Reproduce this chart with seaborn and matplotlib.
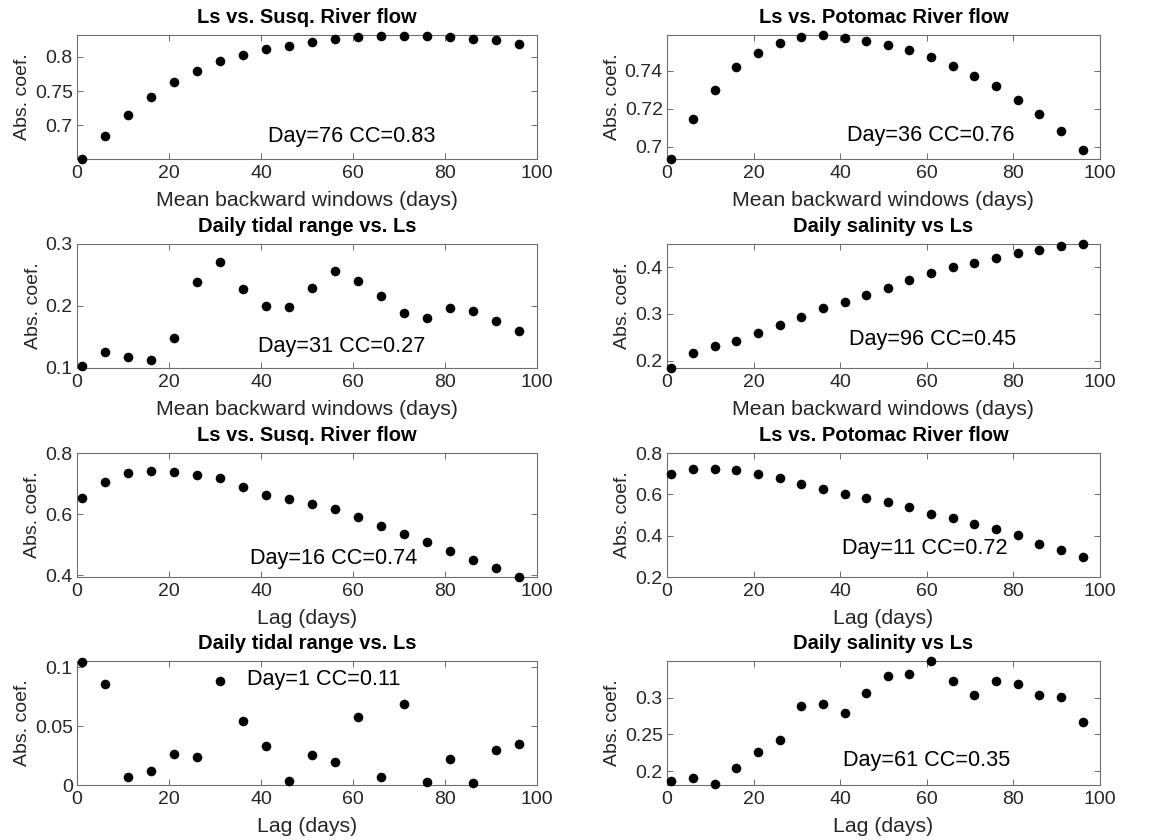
import numpy as np
import pandas as pd
import matplotlib
matplotlib.use("Agg")
import matplotlib.pyplot as plt
import seaborn as sns

sns.set_theme(style="white")
plt.rcParams['font.family'] = ['Liberation Sans', 'DejaVu Sans']

days = [1, 6, 11, 16, 21, 26, 31, 36, 41, 46, 51, 56, 61, 66, 71, 76, 81, 86, 91, 96]

win_susq = [0.651, 0.684, 0.715, 0.742, 0.763, 0.780, 0.794, 0.803, 0.811, 0.816,
            0.822, 0.826, 0.829, 0.830, 0.830, 0.830, 0.829, 0.826, 0.824, 0.819]
win_potomac = [0.6937, 0.7144, 0.7299, 0.7419, 0.7494, 0.7548, 0.7582, 0.7589, 0.7575, 0.7557,
               0.7536, 0.7510, 0.7473, 0.7424, 0.7374, 0.7318, 0.7249, 0.7173, 0.7082, 0.6983]
win_tidal = [0.1038, 0.1257, 0.117, 0.1137, 0.149, 0.2383, 0.2705, 0.2279, 0.2005, 0.198,
             0.2295, 0.2557, 0.2399, 0.2158, 0.1885, 0.1814, 0.1962, 0.1923, 0.176, 0.1596]
win_salinity = [0.185, 0.217, 0.231, 0.243, 0.259, 0.276, 0.294, 0.312, 0.326, 0.340,
                0.356, 0.372, 0.388, 0.400, 0.409, 0.419, 0.429, 0.437, 0.444, 0.450]
lag_susq = [0.652, 0.705, 0.734, 0.741, 0.739, 0.728, 0.717, 0.690, 0.664, 0.650,
            0.632, 0.616, 0.592, 0.561, 0.536, 0.507, 0.478, 0.450, 0.425, 0.395]
lag_potomac = [0.697, 0.723, 0.723, 0.718, 0.700, 0.677, 0.652, 0.624, 0.602, 0.582,
               0.565, 0.539, 0.507, 0.485, 0.456, 0.432, 0.402, 0.361, 0.329, 0.295]
lag_tidal = [0.105, 0.086, 0.0067, 0.0115, 0.0267, 0.0242, 0.0888, 0.0545, 0.0334, 0.0037,
             0.0258, 0.0197, 0.0581, 0.0067, 0.0688, 0.0025, 0.0225, 0.0017, 0.0295, 0.0348]
lag_salinity = [0.186, 0.1905, 0.182, 0.2036, 0.2253, 0.2428, 0.2882, 0.2914, 0.2792, 0.3063,
                0.3299, 0.3326, 0.3502, 0.3226, 0.3032, 0.3222, 0.3186, 0.3032, 0.3005, 0.2670]

titles = ["Ls vs. Susq. River flow", "Ls vs. Potomac River flow",
          "Daily tidal range vs. Ls", "Daily salinity vs Ls",
          "Ls vs. Susq. River flow", "Ls vs. Potomac River flow",
          "Daily tidal range vs. Ls", "Daily salinity vs Ls"]
notes = ["Day=76 CC=0.83", "Day=36 CC=0.76", "Day=31 CC=0.27", "Day=96 CC=0.45",
         "Day=16 CC=0.74", "Day=11 CC=0.72", "Day=1 CC=0.11", "Day=61 CC=0.35"]
xlabels = ["Mean backward windows (days)"] * 4 + ["Lag (days)"] * 4
series = [win_susq, win_potomac, win_tidal, win_salinity,
          lag_susq, lag_potomac, lag_tidal, lag_salinity]
ylims = [(0.651, 0.832), (0.6935, 0.759), (0.1, 0.3), (0.185, 0.449),
         (0.394, 0.8), (0.2, 0.8), (0.0, 0.1055), (0.181, 0.3498)]
yticks = [[0.7, 0.75, 0.8], [0.7, 0.72, 0.74], [0.1, 0.2, 0.3], [0.2, 0.3, 0.4],
          [0.4, 0.6, 0.8], [0.2, 0.4, 0.6, 0.8], [0, 0.05, 0.1], [0.2, 0.25, 0.3]]
yticklabels = [["0.7", "0.75", "0.8"], ["0.7", "0.72", "0.74"], ["0.1", "0.2", "0.3"],
               ["0.2", "0.3", "0.4"], ["0.4", "0.6", "0.8"], ["0.2", "0.4", "0.6", "0.8"],
               ["0", "0.05", "0.1"], ["0.2", "0.25", "0.3"]]
note_pos = [(0.415, 0.184), (0.416, 0.192), (0.394, 0.176), (0.420, 0.233),
            (0.376, 0.151), (0.405, 0.228), (0.370, 0.847), (0.407, 0.196)]

W, H = 1151, 840
fig = plt.figure(figsize=(W / 100, H / 100), dpi=100)

col_x = [(77, 537), (667, 1100)]
row_y = [(35, 159), (244, 368), (453, 577), (661, 785)]

spine_col = '#6e6e6e'
text_col = '#262626'

for i in range(8):
    r, c = divmod(i, 2)
    x0, x1 = col_x[c]
    y0, y1 = row_y[r]
    ax = fig.add_axes([x0 / W, 1 - y1 / H, (x1 - x0) / W, (y1 - y0) / H])
    df = pd.DataFrame({"day": days, "coef": series[i]})
    sns.scatterplot(data=df, x="day", y="coef", ax=ax, color="black", s=48,
                    edgecolor="black", linewidth=0, clip_on=False, zorder=3)
    ax.set_xlim(0, 100)
    ax.set_ylim(*ylims[i])
    ax.set_xticks([0, 20, 40, 60, 80, 100])
    ax.set_xticklabels(["0", "20", "40", "60", "80", "100"])
    ax.set_yticks(yticks[i])
    ax.set_yticklabels(yticklabels[i])
    ax.tick_params(direction="in", length=4, width=0.7, color=spine_col,
                   labelsize=14, labelcolor=text_col, top=True, right=True,
                   bottom=True, left=True)
    ax.tick_params(axis="x", pad=4)
    ax.tick_params(axis="y", pad=3)
    for sp in ax.spines.values():
        sp.set_color(spine_col)
        sp.set_linewidth(0.8)
        sp.set_visible(True)
    ax.set_xlabel(xlabels[i], fontsize=15.3, color=text_col, labelpad=6.5)
    ax.set_ylabel("Abs. coef.", fontsize=14, color=text_col, labelpad=3)
    ax.set_title(titles[i], fontsize=14.5, fontweight="bold", color="black", pad=8.5)
    ax.text(note_pos[i][0], note_pos[i][1], notes[i], transform=ax.transAxes,
            fontsize=15.6, color="black", ha="left", va="center")

fig.savefig("out.png", dpi=100, facecolor="white")
